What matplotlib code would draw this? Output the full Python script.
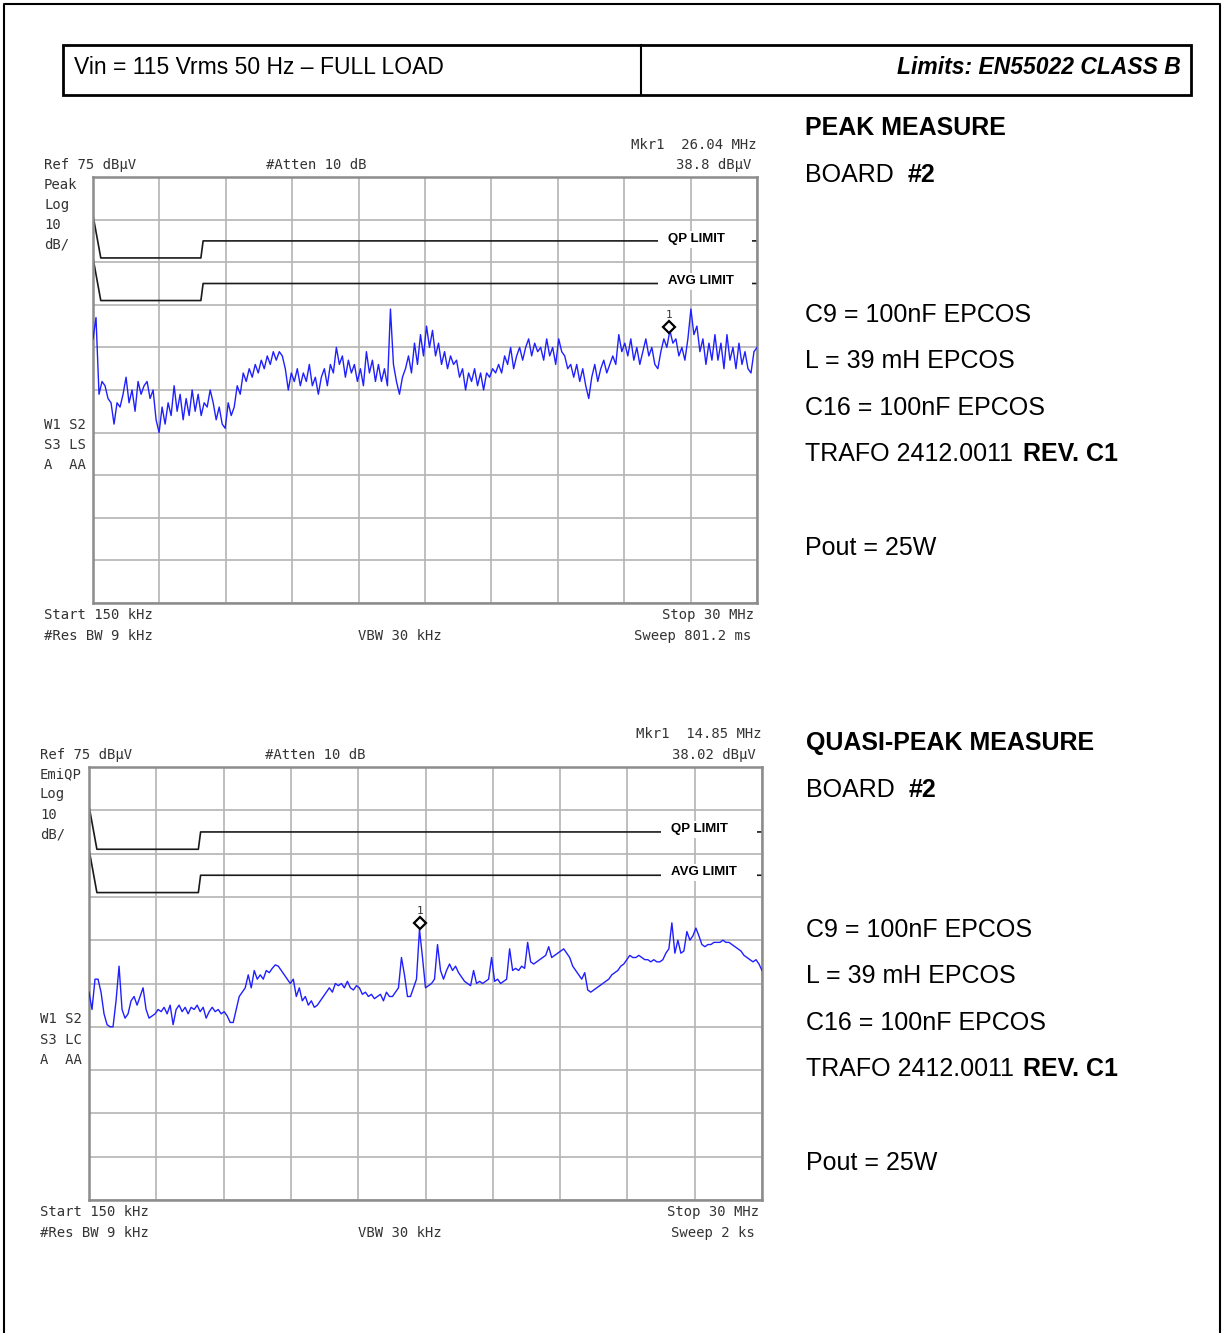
import matplotlib
matplotlib.use("Agg")
import matplotlib.pyplot as plt
from matplotlib.patches import Rectangle
from matplotlib.lines import Line2D
import numpy as np

W, H = 1231, 1333

# analyzer settings (MHz / dBuV)
f_start, f_stop = 0.15, 30.0
ref_level = 75
db_per_div = 10

# EN55022 class B limits
limit_freq = [0.15, 0.5, 5.0, 5.1, 30.0]
qp_limit = [66, 56, 56, 60, 60]
avg_limit = [56, 46, 46, 50, 50]

# peak sweep
peak_trace = [
    37, 42, 24, 27, 26, 23, 22, 17, 22, 21,
    24, 28, 22, 25, 20, 27, 24, 26, 27, 23,
    25, 18, 15, 21, 17, 22, 19, 26, 20, 24,
    18, 23, 19, 25, 20, 24, 19, 22, 21, 25,
    22, 18, 21, 17, 16, 22, 19, 21, 26, 24,
    29, 27, 30, 28, 31, 29, 32, 30, 33, 31,
    34, 32, 34, 33, 30, 25, 29, 27, 30, 26,
    29, 27, 31, 26, 28, 24, 28, 30, 26, 31,
    29, 35, 31, 33, 28, 32, 29, 31, 27, 30,
    26, 34, 29, 32, 27, 31, 27, 30, 26, 44,
    31, 27, 24, 28, 30, 33, 29, 36, 31, 38,
    33, 40, 35, 39, 33, 36, 31, 34, 30, 33,
    31, 32, 28, 30, 25, 29, 27, 30, 26, 29,
    25, 29, 28, 30, 29, 31, 29, 33, 31, 35,
    30, 33, 35, 32, 35, 37, 33, 36, 34, 35,
    32, 37, 33, 35, 31, 37, 34, 33, 30, 31,
    28, 31, 27, 30, 26, 23, 28, 31, 27, 30,
    32, 29, 31, 33, 31, 38, 34, 36, 33, 37,
    32, 35, 31, 34, 37, 33, 35, 31, 30, 34,
    37, 35, 39, 36, 37, 33, 35, 32, 37, 44,
    38, 40, 34, 37, 31, 36, 32, 38, 32, 36,
    30, 38, 32, 35, 30, 36, 31, 34, 30, 29,
    34, 35,
]

# quasi-peak sweep
qp_trace = [
    23, 19, 26, 26, 23, 18, 15.5, 15, 15, 21,
    29, 19, 17, 18, 21, 22, 20, 22, 24, 19,
    17, 17.5, 18, 19, 18.5, 19.5, 18, 20, 15.5, 19,
    20, 18.5, 19.5, 18, 19.5, 19, 20, 18.5, 19.5, 17,
    18.5, 19.5, 18.5, 19, 18, 18.5, 17.5, 16, 16, 19,
    22, 23, 24, 27, 24, 28, 26, 27, 26, 28,
    27.5, 28.5, 29.3, 29, 28, 27, 26, 25, 26, 22,
    24, 21, 22, 20, 21, 19.5, 20, 21, 22, 23,
    24, 23, 25, 24.5, 25, 24, 25.5, 24, 23.5, 24.5,
    24, 22.5, 23, 22, 22.5, 21.5, 22, 22.5, 21, 23,
    22, 22, 23, 24, 31, 27, 22, 22, 24, 26,
    37.5, 31, 24, 24.5, 25, 26, 34, 28, 26, 28,
    29.5, 28, 29, 27.5, 26.5, 25.5, 25, 24.5, 28, 25,
    25.5, 25, 25.5, 26, 31, 25.5, 26, 25, 25.5, 26,
    33, 28, 28.5, 28, 29, 28.5, 34.5, 30, 29.5, 30,
    30.5, 31, 31.5, 33.5, 31, 31.5, 32, 32.5, 33, 32,
    31, 29, 28, 27, 26, 27.5, 23.5, 23, 23.5, 24,
    24.5, 25, 25.5, 26, 27, 27.5, 28, 29, 29.5, 30.5,
    31.5, 31, 31, 31.5, 31, 30.5, 30.5, 30, 30.5, 30,
    30, 30.5, 32, 33, 39, 32, 35, 32, 32.5, 37,
    35, 36, 37.8, 36, 34, 33.5, 34, 34, 34.5, 34.5,
    34.5, 35, 34.5, 34.5, 34, 33.5, 33, 32.5, 31.5, 31,
    30.5, 30, 30.5, 29.5, 28,
]

peak_marker = (26.04, 38.8)
qp_marker = (14.85, 38.02)

fig = plt.figure(figsize=(W / 100, H / 100), dpi=100)

mono = dict(family="DejaVu Sans Mono", fontsize=10, color="#333333")
arial = dict(family="Liberation Sans", color="black")


def ftext(x, y, s, **kw):
    kw.setdefault("va", "center")
    return fig.text(x / W, 1 - y / H, s, **kw)


def frect(x0, y0, x1, y1, **kw):
    fig.add_artist(Rectangle((x0 / W, 1 - y1 / H), (x1 - x0) / W, (y1 - y0) / H,
                             transform=fig.transFigure, **kw))


def fline(xs, ys, **kw):
    fig.add_artist(Line2D([x / W for x in xs], [1 - y / H for y in ys],
                          transform=fig.transFigure, **kw))


def analyzer(left, top, right, bottom, trace, mkr):
    ax = fig.add_axes([left / W, 1 - bottom / H, (right - left) / W, (bottom - top) / H])
    freq = np.linspace(f_start, f_stop, len(trace))
    ax.plot(freq, trace, color="#1f1fff", lw=1.0, zorder=3)
    ax.plot(limit_freq, qp_limit, color="#1a1a1a", lw=1.2, zorder=2)
    ax.plot(limit_freq, avg_limit, color="#1a1a1a", lw=1.2, zorder=2)
    ax.plot(mkr[0], mkr[1] + 1, marker="D", ms=6.5, mfc="white", mec="black", mew=1.6,
            zorder=4, clip_on=False)
    ax.annotate("1", (mkr[0], mkr[1] + 1), xytext=(0, 5), textcoords="offset points",
                ha="center", va="bottom", family="DejaVu Sans Mono", fontsize=8, color="#333333")
    ax.set_xlim(f_start, f_stop)
    ax.set_ylim(ref_level - 10 * db_per_div, ref_level)
    ax.set_xticks(np.linspace(f_start, f_stop, 11))
    ax.set_yticks(np.arange(ref_level - 10 * db_per_div, ref_level + 1, db_per_div))
    ax.grid(True, color="#b4b4b4", lw=1.2)
    ax.set_axisbelow(True)
    ax.tick_params(length=0, labelbottom=False, labelleft=False)
    for s in ax.spines.values():
        s.set_color("#8c8c8c")
        s.set_linewidth(1.8)
    return ax


# outer frame + header box
fline([4, 4, 1220, 1220], [1333, 4, 4, 1333], color="black", lw=1.5)
frect(63, 45, 1191, 95, fc="none", ec="black", lw=2)
fline([641, 641], [45, 95], color="black", lw=1.5)
ftext(74, 74, "Vin = 115 Vrms 50 Hz \u2013 FULL LOAD", va="baseline", fontsize=16.5, **arial)
ftext(1181, 74, "Limits: EN55022 CLASS B", va="baseline", ha="right", fontsize=16.5,
      fontweight="bold", style="italic", **arial)

# ---------- peak panel ----------
analyzer(93, 177, 757, 603, peak_trace, peak_marker)
ftext(44, 165, "Ref 75 dB\u00b5V", **mono)
ftext(266, 165, "#Atten 10 dB", **mono)
ftext(757, 145, "Mkr1  26.04 MHz", ha="right", **mono)
ftext(751, 165, "38.8 dB\u00b5V", ha="right", **mono)
for i, s in enumerate(["Peak", "Log", "10", "dB/"]):
    ftext(44, 185 + 20 * i, s, **mono)
for i, s in enumerate(["W1 S2", "S3 LS", "A  AA"]):
    ftext(44, 425 + 20 * i, s, **mono)
ftext(44, 615, "Start 150 kHz", **mono)
ftext(44, 636, "#Res BW 9 kHz", **mono)
ftext(400, 636, "VBW 30 kHz", ha="center", **mono)
ftext(754, 615, "Stop 30 MHz", ha="right", **mono)
ftext(751, 636, "Sweep 801.2 ms", ha="right", **mono)
frect(658, 231, 752, 248, fc="white", ec="none", zorder=5)
frect(658, 273, 752, 290, fc="white", ec="none", zorder=5)
ftext(668, 239, "QP LIMIT", fontsize=9.5, fontweight="bold", zorder=6, **arial)
ftext(668, 281, "AVG LIMIT", fontsize=9.5, fontweight="bold", zorder=6, **arial)

# ---------- quasi-peak panel ----------
analyzer(89, 767, 762, 1200, qp_trace, qp_marker)
ftext(40, 755, "Ref 75 dB\u00b5V", **mono)
ftext(265, 755, "#Atten 10 dB", **mono)
ftext(762, 734, "Mkr1  14.85 MHz", ha="right", **mono)
ftext(756, 755, "38.02 dB\u00b5V", ha="right", **mono)
for i, s in enumerate(["EmiQP", "Log", "10", "dB/"]):
    ftext(40, 774 + 20.3 * i, s, **mono)
for i, s in enumerate(["W1 S2", "S3 LC", "A  AA"]):
    ftext(40, 1019 + 20.5 * i, s, **mono)
ftext(40, 1212, "Start 150 kHz", **mono)
ftext(40, 1233, "#Res BW 9 kHz", **mono)
ftext(400, 1233, "VBW 30 kHz", ha="center", **mono)
ftext(759, 1212, "Stop 30 MHz", ha="right", **mono)
ftext(755, 1233, "Sweep 2 ks", ha="right", **mono)
frect(661, 821, 757, 838, fc="white", ec="none", zorder=5)
frect(661, 864, 757, 881, fc="white", ec="none", zorder=5)
ftext(671, 829, "QP LIMIT", fontsize=9.5, fontweight="bold", zorder=6, **arial)
ftext(671, 872, "AVG LIMIT", fontsize=9.5, fontweight="bold", zorder=6, **arial)

# ---------- side notes ----------
def notes(x, y0, title):
    ftext(x, y0, title, va="baseline", fontsize=18, fontweight="bold", **arial)
    ftext(x, y0 + 47, "BOARD", va="baseline", fontsize=18, **arial)
    ftext(x + 103, y0 + 47, "#2", va="baseline", fontsize=18, fontweight="bold", **arial)
    ftext(x, y0 + 187, "C9 = 100nF EPCOS", va="baseline", fontsize=18, **arial)
    ftext(x, y0 + 233, "L = 39 mH EPCOS", va="baseline", fontsize=18, **arial)
    ftext(x, y0 + 280, "C16 = 100nF EPCOS", va="baseline", fontsize=18, **arial)
    ftext(x, y0 + 326, "TRAFO 2412.0011", va="baseline", fontsize=18, **arial)
    ftext(1023, y0 + 326, "REV. C1", va="baseline", fontsize=18, fontweight="bold", **arial)
    ftext(x, y0 + 420, "Pout = 25W", va="baseline", fontsize=18, **arial)


notes(805, 135, "PEAK MEASURE")
notes(806, 750, "QUASI-PEAK MEASURE")

fig.savefig("out.png", dpi=100)
